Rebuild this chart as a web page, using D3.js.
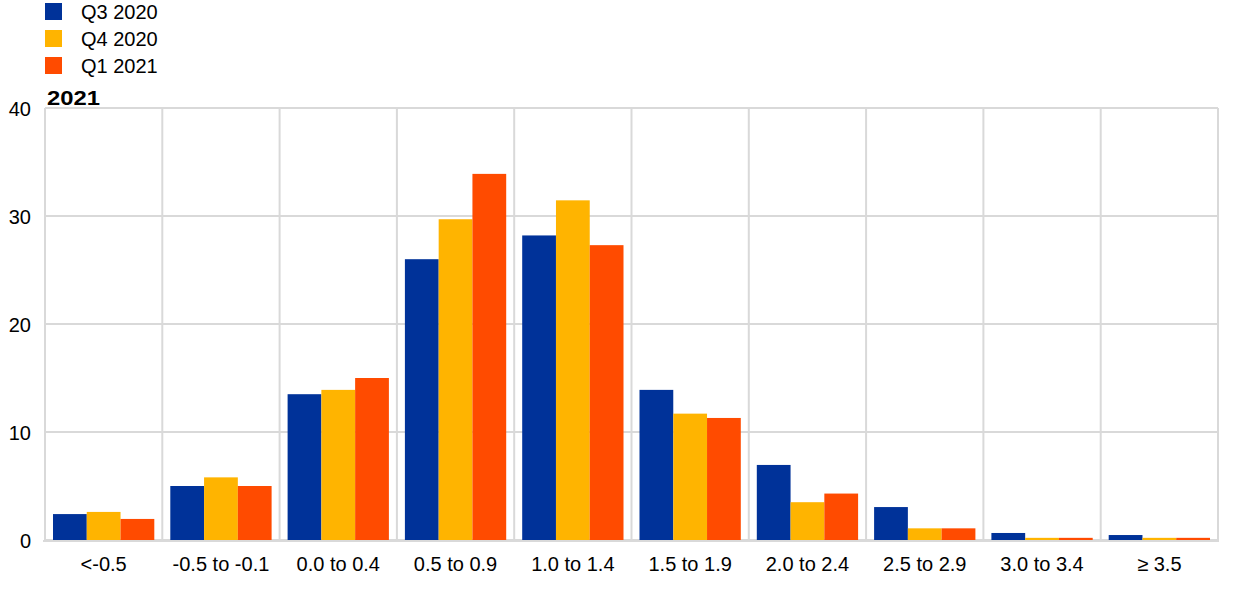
<!DOCTYPE html>
<html><head><meta charset="utf-8">
<script src="https://d3js.org/d3.v7.min.js"></script>
<style>body{margin:0;background:#fff;font-family:"Liberation Sans",Arial,sans-serif;}</style>
</head><body><svg id="c" width="1240" height="589"></svg>
<script>
const categories = ["<-0.5","-0.5 to -0.1","0.0 to 0.4","0.5 to 0.9","1.0 to 1.4","1.5 to 1.9","2.0 to 2.4","2.5 to 2.9","3.0 to 3.4","\u2265 3.5"];
const seriesNames = ["Q3 2020","Q4 2020","Q1 2021"];
const q3_2020 = [2.4, 5.0, 13.5, 26.0, 28.2, 13.9, 6.95, 3.05, 0.65, 0.46];
const q4_2020 = [2.6, 5.8, 13.9, 29.7, 31.45, 11.7, 3.5, 1.08, 0.2, 0.2];
const q1_2021 = [1.95, 5.0, 15.0, 33.9, 27.3, 11.3, 4.3, 1.08, 0.2, 0.2];
const yTicks = [0, 10, 20, 30, 40];
const colors = ["#003299", "#FFB400", "#FF4B00"];
const series = [q3_2020, q4_2020, q1_2021];
const FONT = "Liberation Sans, Arial, sans-serif";

const svg = d3.select("#c");
const L = 45, R = 1218, T = 108, B = 540;
const x = d3.scaleBand().domain(categories).range([L, R]).paddingInner(0).paddingOuter(0);
const xi = d3.scaleBand().domain(d3.range(3)).range([8, x.bandwidth() - 8]).padding(0);
const y = d3.scaleLinear().domain([0, 40]).range([B, T]);

// horizontal gridlines
svg.append("g").selectAll("line").data(yTicks).join("line")
  .attr("x1", L).attr("x2", R).attr("y1", d => y(d)).attr("y2", d => y(d))
  .attr("stroke", "#d9d9d9").attr("stroke-width", 2);
// vertical gridlines
const vx = categories.map(c => x(c)).concat([R]);
svg.append("g").selectAll("line").data(vx).join("line")
  .attr("x1", d => d).attr("x2", d => d).attr("y1", T).attr("y2", B)
  .attr("stroke", "#d9d9d9").attr("stroke-width", 2);

// bars
series.forEach((s, si) => {
  svg.append("g").selectAll("rect").data(s).join("rect")
    .attr("x", (d, i) => x(categories[i]) + xi(si))
    .attr("width", xi.bandwidth())
    .attr("y", d => y(d))
    .attr("height", d => B - y(d))
    .attr("fill", colors[si]);
});

// baseline
svg.append("line").attr("x1", L - 2).attr("x2", R + 1).attr("y1", B + 1).attr("y2", B + 1)
  .attr("stroke", "#d9d9d9").attr("stroke-width", 2);

// y axis labels
const yAxis = d3.axisLeft(y).tickValues(yTicks).tickSize(0).tickPadding(0);
const ga = svg.append("g").attr("transform", `translate(${L - 14},0)`).call(yAxis);
ga.select(".domain").remove();
ga.selectAll("text").attr("font-size", 20).attr("font-family", FONT).attr("fill", "#000").attr("dy", "0.35em");

// x axis labels
const xAxis = d3.axisBottom(x).tickSize(0).tickPadding(0);
const gx = svg.append("g").attr("transform", `translate(0,${B + 17})`).call(xAxis);
gx.select(".domain").remove();
gx.selectAll("text").attr("font-size", 20).attr("font-family", FONT).attr("fill", "#000").attr("dy", "0.71em");

// title
svg.append("text").attr("x", 47).attr("y", 105).text("2021")
  .attr("font-size", 21).attr("font-weight", "bold").attr("font-family", FONT)
  .attr("textLength", 53).attr("lengthAdjust", "spacingAndGlyphs").attr("fill", "#000");

// legend
const lg = svg.append("g").selectAll("g").data(seriesNames).join("g")
  .attr("transform", (d, i) => `translate(45,${3 + i * 27})`);
lg.append("rect").attr("width", 17).attr("height", 17).attr("fill", (d, i) => colors[i]);
lg.append("text").attr("x", 36).attr("y", 9).attr("dy", "0.35em").text(d => d)
  .attr("font-size", 20).attr("font-family", FONT).attr("fill", "#000");
</script></body></html>
